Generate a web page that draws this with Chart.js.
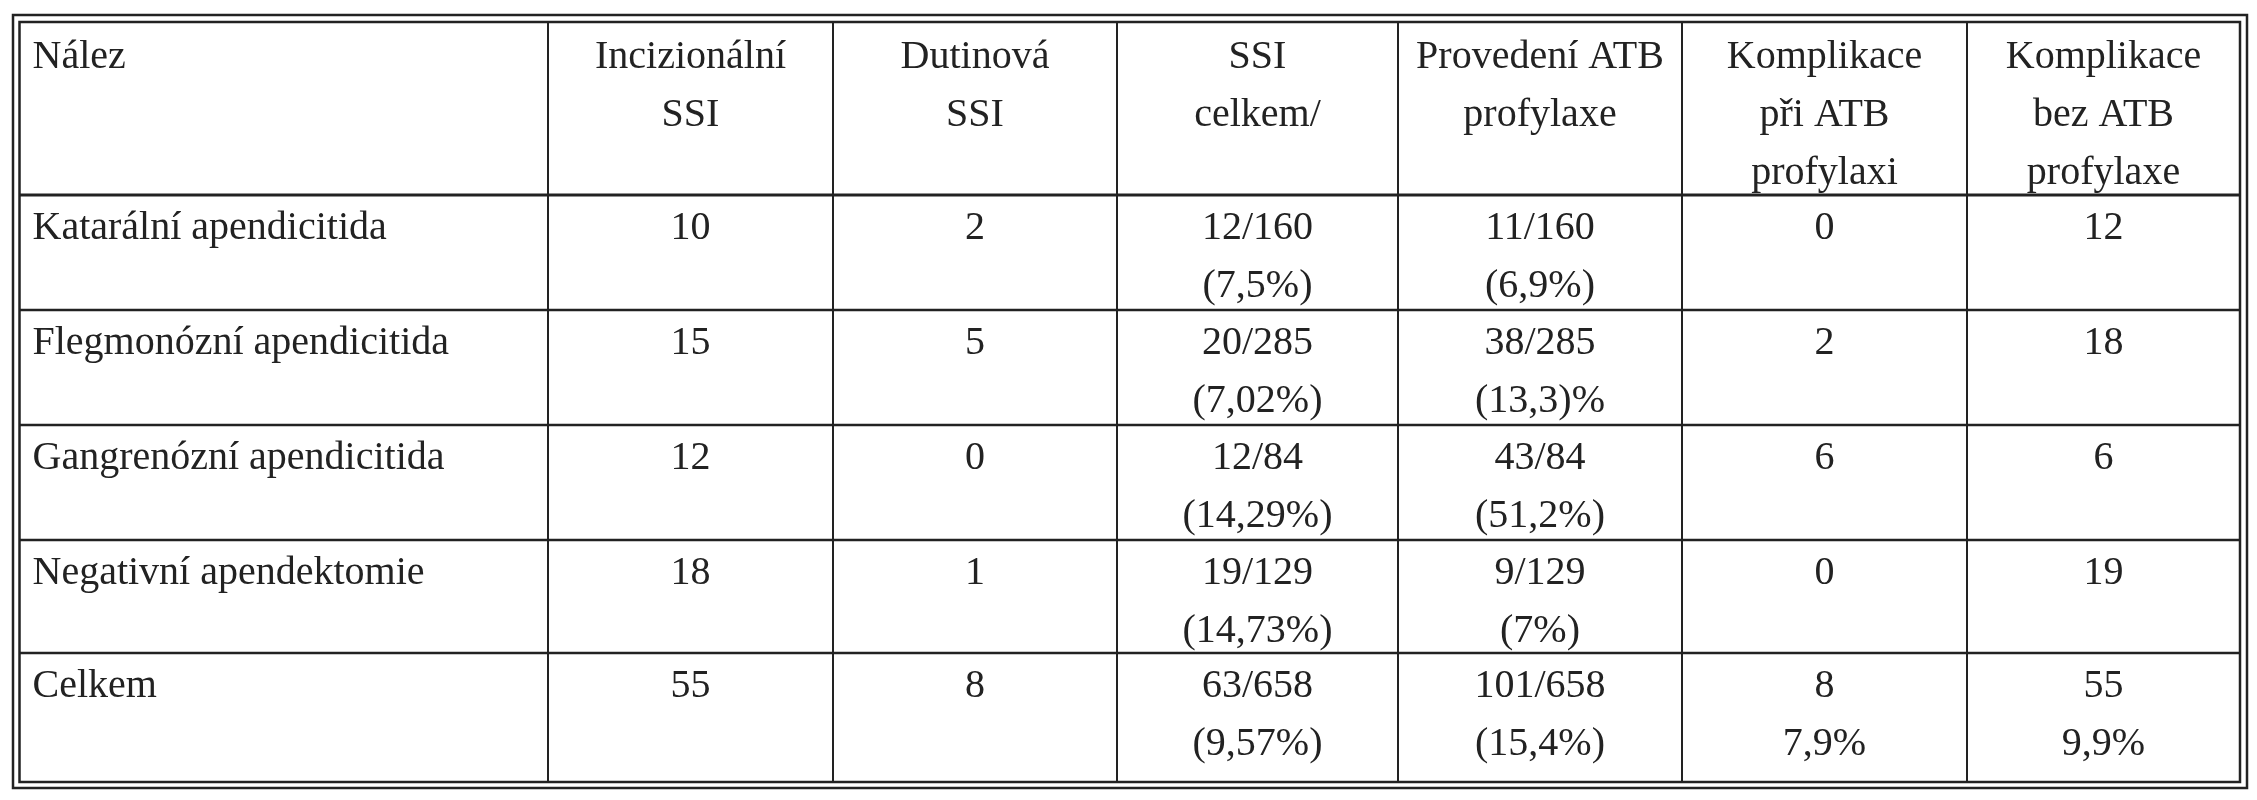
<!DOCTYPE html>
<html><head><meta charset="utf-8">
<script src="https://cdn.jsdelivr.net/npm/chart.js@4/dist/chart.umd.min.js"></script>
<style>html,body{margin:0;padding:0;background:#fff}#w{width:2257px;height:800px}</style>
</head><body><div id="w"><canvas id="c"></canvas></div>
<script>
const headers = [["Nález"],["Incizionální","SSI"],["Dutinová","SSI"],["SSI","celkem/"],["Provedení ATB","profylaxe"],["Komplikace","při ATB","profylaxi"],["Komplikace","bez ATB","profylaxe"]];
const categories = ["Katarální apendicitida","Flegmonózní apendicitida","Gangrenózní apendicitida","Negativní apendektomie","Celkem"];
const incisional = ["10","15","12","18","55"];
const cavity = ["2","5","0","1","8"];
const ssiTotal = [["12/160","(7,5%)"],["20/285","(7,02%)"],["12/84","(14,29%)"],["19/129","(14,73%)"],["63/658","(9,57%)"]];
const atb = [["11/160","(6,9%)"],["38/285","(13,3)%"],["43/84","(51,2%)"],["9/129","(7%)"],["101/658","(15,4%)"]];
const complWith = [["0"],["2"],["6"],["0"],["8","7,9%"]];
const complWithout = [["12"],["18"],["6"],["19"],["55","9,9%"]];

const colEdges = [19.5,548,833,1117,1398,1682,1967,2240];
const rowEdges = [22,195,310,425,540,653,782];

const tablePlugin = {
  id:'table',
  afterDraw(chart){
    const ctx=chart.ctx, X=v=>chart.scales.x.getPixelForValue(v), Y=v=>chart.scales.y.getPixelForValue(v);
    ctx.save();
    ctx.strokeStyle='#222';
    // outer double border
    ctx.lineWidth=2.5;
    ctx.strokeRect(X(13),Y(15),X(2247)-X(13),Y(788)-Y(15));
    ctx.lineWidth=2.5;
    ctx.strokeRect(X(colEdges[0]),Y(rowEdges[0]),X(colEdges[7])-X(colEdges[0]),Y(rowEdges[6])-Y(rowEdges[0]));
    ctx.lineWidth=2;
    for(let i=1;i<colEdges.length-1;i++){ctx.beginPath();ctx.moveTo(X(colEdges[i]),Y(rowEdges[0]));ctx.lineTo(X(colEdges[i]),Y(rowEdges[6]));ctx.stroke();}
    for(let j=1;j<rowEdges.length-1;j++){ctx.lineWidth=j===1?3:2.5;ctx.beginPath();ctx.moveTo(X(colEdges[0]),Y(rowEdges[j]));ctx.lineTo(X(colEdges[7]),Y(rowEdges[j]));ctx.stroke();}
    ctx.fillStyle='#222';
    ctx.font='40px "Liberation Serif"';
    ctx.textBaseline='alphabetic';
    const put=(lines,col,rowTop,first)=>{
      lines.forEach((t,k)=>{
        const y=Y(rowTop+first+k*58);
        if(col===0){ctx.textAlign='left';ctx.fillText(t,X(colEdges[0]+13),y);}
        else{ctx.textAlign='center';ctx.fillText(t,(X(colEdges[col])+X(colEdges[col+1]))/2,y);}
      });
    };
    headers.forEach((h,c)=>put(h,c,rowEdges[0],46));
    categories.forEach((cat,r)=>{
      const top=rowEdges[r+1];
      put([cat],0,top,44);
      put([incisional[r]],1,top,44);
      put([cavity[r]],2,top,44);
      put(ssiTotal[r],3,top,44);
      put(atb[r],4,top,44);
      put(complWith[r],5,top,44);
      put(complWithout[r],6,top,44);
    });
    ctx.restore();
  }
};

new Chart(document.getElementById('c'),{
  type:'scatter',
  data:{datasets:[{data:[],showLine:false}]},
  options:{
    responsive:true,maintainAspectRatio:false,animation:false,
    layout:{padding:0},
    plugins:{legend:{display:false},tooltip:{enabled:false}},
    scales:{
      x:{type:'linear',min:0,max:2257,display:false},
      y:{type:'linear',min:0,max:800,reverse:true,display:false}
    }
  },
  plugins:[tablePlugin]
});
</script></body></html>
